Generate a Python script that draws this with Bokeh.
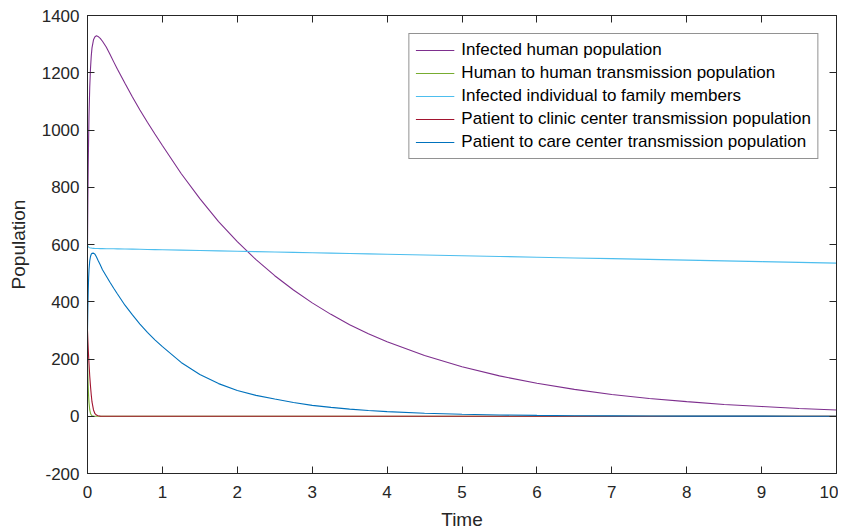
from bokeh.plotting import figure
from bokeh.models import (LinearAxis, FixedTicker, Legend, LegendItem, Range1d,
                          PrintfTickFormatter, CustomJSTickFormatter)
from bokeh.embed import file_html
from bokeh.resources import INLINE

time = [0, 0.005, 0.01, 0.015, 0.02, 0.03, 0.04, 0.05, 0.06, 0.08,
        0.1, 0.12, 0.14, 0.17, 0.2, 0.25, 0.3, 0.35, 0.4, 0.5,
        0.6, 0.7, 0.8, 0.9, 1.0, 1.25, 1.5, 1.75, 2.0, 2.25,
        2.5, 2.75, 3.0, 3.25, 3.5, 3.75, 4.0, 4.5, 5.0, 5.5,
        6.0, 6.5, 7.0, 7.5, 8.0, 8.5, 9.0, 9.5, 10.0]

infected_human = [600, 760, 880, 975, 1050, 1150, 1215, 1258, 1287, 1315,
                  1326, 1329, 1327, 1320, 1310, 1290, 1265, 1238, 1212, 1163,
                  1115, 1070, 1027, 986, 946, 848, 760, 680, 610, 547,
                  491, 441, 396, 356, 320, 288, 260, 212, 173, 141,
                  115, 94, 76, 62, 51, 41, 34, 27, 22]
human_to_human = [200, 140, 100, 70, 48, 22, 10, 5, 2, 0.5,
                  0, 0, 0, 0, 0, 0, 0, 0, 0, 0,
                  0, 0, 0, 0, 0, 0, 0, 0, 0, 0,
                  0, 0, 0, 0, 0, 0, 0, 0, 0, 0,
                  0, 0, 0, 0, 0, 0, 0, 0, 0]
family_members = [600, 596, 593, 591, 590, 588.5, 588, 587.5, 587, 586.5,
                  586, 586, 585.8, 585.6, 585.5, 585.3, 585, 585, 584.7, 584.2,
                  583.7, 583.2, 582.7, 582.2, 581.7, 580.4, 579.1, 577.8, 576.5, 575.2,
                  573.9, 572.6, 571.3, 570, 568.7, 567.4, 566.1, 563.5, 560.9, 558.3,
                  555.7, 553.1, 550.5, 547.9, 545.3, 542.7, 540.1, 537.5, 535]
clinic_center = [300, 265, 235, 208, 185, 140, 105, 75, 50, 22,
                 9, 4, 2, 0.5, 0, 0, 0, 0, 0, 0,
                 0, 0, 0, 0, 0, 0, 0, 0, 0, 0,
                 0, 0, 0, 0, 0, 0, 0, 0, 0, 0,
                 0, 0, 0, 0, 0, 0, 0, 0, 0]
care_center = [300, 380, 440, 485, 512, 543, 558, 566, 569, 570,
               566, 556, 545, 529, 512, 490, 468, 447, 427, 388,
               354, 322, 293, 267, 243, 188, 146, 114, 90, 73,
               60, 48, 38, 31, 25, 20, 16, 10.5, 7, 4.5,
               3, 2, 1.3, 0.9, 0.6, 0.4, 0.3, 0.2, 0.1]

series_names = ["Infected human population",
                "Human to human transmission population",
                "Infected individual to family members",
                "Patient to clinic center transmission population",
                "Patient to care center transmission population"]
series_values = [infected_human, human_to_human, family_members, clinic_center, care_center]
series_colors = ["#7E2F8E", "#77AC30", "#4DBEEE", "#A2142F", "#0072BD"]

x_ticks = list(range(0, 11))
y_ticks = list(range(-200, 1401, 200))

FONT = "Liberation Sans"
AX = "#262626"

p = figure(output_backend="svg", toolbar_location=None,
           frame_width=749, frame_height=458,
           min_border_left=87, min_border_right=2, min_border_top=15, min_border_bottom=52,
           x_range=Range1d(0, 10), y_range=Range1d(-200, 1400),
           x_axis_label="Time", y_axis_label="Population")
p.grid.visible = False
p.outline_line_color = AX
p.outline_line_width = 1

items = []
for name, vals, col in zip(series_names, series_values, series_colors):
    r = p.line(time, vals, line_color=col, line_width=1.1)
    items.append(LegendItem(label=name, renderers=[r]))

for ax, ticks in ((p.xaxis[0], x_ticks), (p.yaxis[0], y_ticks)):
    ax.ticker = FixedTicker(ticks=ticks)
    ax.formatter = PrintfTickFormatter(format="%d")
    ax.axis_line_color = AX
    ax.major_tick_line_color = AX
    ax.major_tick_in = 7
    ax.major_tick_out = 0
    ax.minor_tick_line_color = None
    ax.major_label_text_font = FONT
    ax.major_label_text_font_size = "17px"
    ax.major_label_text_color = AX
    ax.axis_label_text_font = FONT
    ax.axis_label_text_font_size = "19px"
    ax.axis_label_text_font_style = "normal"
    ax.axis_label_text_color = AX
p.xaxis[0].major_label_standoff = 12
p.xaxis[0].axis_label_standoff = 8
p.yaxis[0].major_label_standoff = 8
p.yaxis[0].axis_label_standoff = 10

for loc, ticks in (("above", x_ticks), ("right", y_ticks)):
    a = LinearAxis(ticker=FixedTicker(ticks=ticks), axis_line_color=AX,
                   major_tick_line_color=AX, major_tick_in=7, major_tick_out=0,
                   minor_tick_line_color=None,
                   formatter=CustomJSTickFormatter(code="return '';"),
                   major_label_standoff=0)
    p.add_layout(a, loc)

legend = Legend(items=items, location="top_right", margin=18,
                border_line_color=AX, border_line_width=1,
                background_fill_color="white", background_fill_alpha=1,
                label_text_font=FONT, label_text_font_size="17px", label_text_color="black",
                glyph_width=39, glyph_height=20, label_height=20, label_standoff=7,
                spacing=3, padding=6)
p.add_layout(legend)

open("out.html", "w").write(file_html(p, INLINE))
